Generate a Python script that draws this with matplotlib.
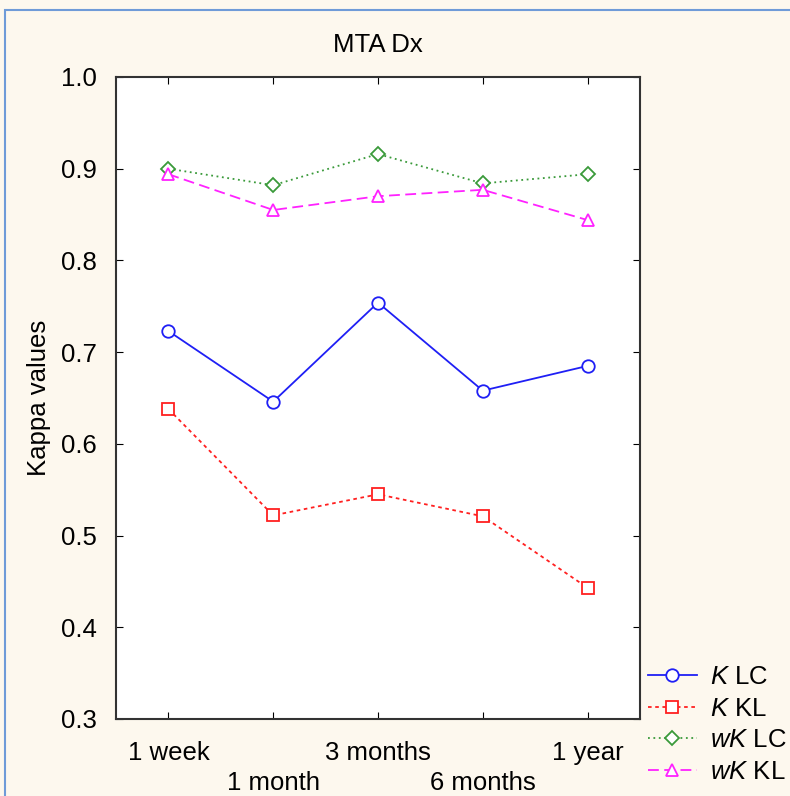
import matplotlib.pyplot as plt
from matplotlib.patches import Rectangle

plt.rcParams['font.family'] = ['Liberation Sans', 'DejaVu Sans']
plt.rcParams['mathtext.fontset'] = 'custom'
plt.rcParams['mathtext.it'] = 'Liberation Sans:italic'
plt.rcParams['mathtext.rm'] = 'Liberation Sans'

periods = ["1 week", "1 month", "3 months", "6 months", "1 year"]
k_lc = [0.723, 0.646, 0.754, 0.658, 0.685]
k_kl = [0.638, 0.522, 0.545, 0.521, 0.443]
wk_lc = [0.900, 0.882, 0.916, 0.884, 0.894]
wk_kl = [0.894, 0.855, 0.870, 0.877, 0.844]

bg = "#fdf8ee"
fig = plt.figure(figsize=(7.9, 7.96), dpi=100, facecolor=bg)
# blue window border at top and left
fig.add_artist(Rectangle((5 / 790, -0.1), 1.2, 1.1 - 10 / 796, transform=fig.transFigure,
                         fill=False, edgecolor="#6f9bd8", linewidth=1.5))

ax = fig.add_axes([116 / 790, 1 - 719 / 796, (640 - 116) / 790, (719 - 77) / 796])
x = range(len(periods))

ax.plot(x, k_lc, color="#1f1ff5", ls="-", lw=1.3, marker="o", ms=9, mfc="white", mec="#1f1ff5", mew=1.3,
        label=r"$\mathit{K}$ LC")
ax.plot(x, k_kl, color="#ff2020", ls=(0, (2, 2)), lw=1.3, marker="s", ms=9, mfc="white", mec="#ff2020", mew=1.3,
        label=r"$\mathit{K}$ KL")
ax.plot(x, wk_lc, color="#3a9a3a", ls=(0, (1, 2)), lw=1.3, marker="D", ms=7, mfc="white", mec="#3a9a3a", mew=1.3,
        label=r"$\mathit{wK}$ LC")
ax.plot(x, wk_kl, color="#ff22ff", ls=(0, (6, 3)), lw=1.3, marker="^", ms=9, mfc="white", mec="#ff22ff", mew=1.3,
        label=r"$\mathit{wK}$ KL")

ax.set_xlim(-0.5, 4.5)
ax.set_ylim(0.3, 1.0)
ax.set_yticks([0.3, 0.4, 0.5, 0.6, 0.7, 0.8, 0.9, 1.0])
ax.set_yticklabels(["0.3", "0.4", "0.5", "0.6", "0.7", "0.8", "0.9", "1.0"])
ax.set_xticks(list(x))
ax.set_xticklabels([p if i % 2 == 0 else "\n" + p for i, p in enumerate(periods)], linespacing=1.3)
ax.tick_params(direction="in", length=5, top=True, right=True, labelsize=18.5, pad=14)
ax.tick_params(axis="x", pad=16)
for s in ax.spines.values():
    s.set_linewidth(1.5)
    s.set_color("#333333")

ax.set_ylabel("Kappa values", fontsize=18.5, labelpad=7)
ax.set_title("MTA Dx", fontsize=18.5, pad=18)

leg = ax.legend(loc="upper left", bbox_to_anchor=(648 / 790, 1 - 665 / 796), bbox_transform=fig.transFigure,
                frameon=False, fontsize=18.5, handlelength=1.9, handletextpad=0.5, labelspacing=0.3,
                borderpad=0, borderaxespad=0)

fig.savefig("out.png", dpi=100, facecolor=bg)
